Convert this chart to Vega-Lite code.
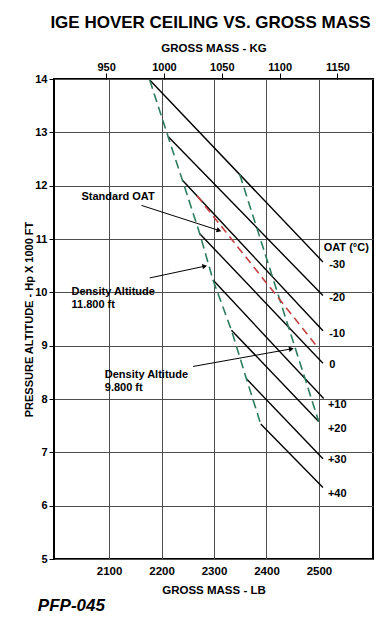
{
  "$schema": "https://vega.github.io/schema/vega-lite/v6.json",
  "width": 319,
  "height": 480,
  "autosize": {"type": "none"},
  "padding": {"left": 54, "top": 79, "right": 15, "bottom": 58},
  "background": "#ffffff",
  "title": {
    "text": "IGE HOVER CEILING VS. GROSS MASS",
    "font": "Liberation Sans",
    "fontSize": 17,
    "fontWeight": "bold",
    "color": "#000000",
    "anchor": "middle",
    "dx": -3,
    "offset": 10
  },
  "config": {
    "view": {"stroke": "#000000", "strokeWidth": 2},
    "font": "Liberation Sans",
    "axis": {
      "labelFont": "Liberation Sans",
      "labelFontWeight": "bold",
      "labelFontSize": 11,
      "labelColor": "#000000",
      "titleFont": "Liberation Sans",
      "titleFontWeight": "bold",
      "titleFontSize": 11.5,
      "titleColor": "#000000",
      "domain": false,
      "gridColor": "#4d4d4d",
      "gridOpacity": 1,
      "gridWidth": 1,
      "tickColor": "#000000",
      "tickWidth": 1
    }
  },
  "datasets": {
    "oat": [
      {"oat": "-30", "lb": 2177.5, "ft": 13.98},
      {"oat": "-30", "lb": 2507.6, "ft": 10.57},
      {"oat": "-20", "lb": 2212.4, "ft": 12.92},
      {"oat": "-20", "lb": 2507.6, "ft": 9.94},
      {"oat": "-10", "lb": 2239.8, "ft": 12.10},
      {"oat": "-10", "lb": 2507.6, "ft": 9.28},
      {"oat": "0", "lb": 2272.8, "ft": 11.10},
      {"oat": "0", "lb": 2507.6, "ft": 8.67},
      {"oat": "+10", "lb": 2298.1, "ft": 10.23},
      {"oat": "+10", "lb": 2509.0, "ft": 8.01},
      {"oat": "+20", "lb": 2333.2, "ft": 9.29},
      {"oat": "+20", "lb": 2499.5, "ft": 7.58},
      {"oat": "+30", "lb": 2361.7, "ft": 8.38},
      {"oat": "+30", "lb": 2507.6, "ft": 6.88},
      {"oat": "+40", "lb": 2389.0, "ft": 7.53},
      {"oat": "+40", "lb": 2507.6, "ft": 6.34}
    ],
    "da": [
      {"da": "11800", "lb": 2177.5, "ft": 13.98},
      {"da": "11800", "lb": 2212.4, "ft": 12.92},
      {"da": "11800", "lb": 2239.8, "ft": 12.10},
      {"da": "11800", "lb": 2272.8, "ft": 11.10},
      {"da": "11800", "lb": 2298.1, "ft": 10.23},
      {"da": "11800", "lb": 2333.2, "ft": 9.29},
      {"da": "11800", "lb": 2361.7, "ft": 8.38},
      {"da": "11800", "lb": 2389.0, "ft": 7.53},
      {"da": "9800", "lb": 2349.0, "ft": 12.21},
      {"da": "9800", "lb": 2499.5, "ft": 7.58}
    ],
    "std": [
      {"lb": 2267.6, "ft": 11.81},
      {"lb": 2500.0, "ft": 8.94}
    ],
    "arrows": [
      {"id": "std", "lb": 2161.7, "ft": 11.63, "lb2": 2309.5, "ft2": 11.16},
      {"id": "da11", "lb": 2177.5, "ft": 10.27, "lb2": 2282.3, "ft2": 10.49},
      {"id": "da9", "lb": 2260.0, "ft": 8.61, "lb2": 2447.4, "ft2": 8.94}
    ],
    "notes": [
      {"text": "Standard OAT", "lb": 2047.4, "ft": 11.784},
      {"text": "Density Altitude\n11.800 ft", "lb": 2028.4, "ft": 10.006},
      {"text": "Density Altitude\n9.800 ft", "lb": 2091.8, "ft": 8.447}
    ],
    "oatLabels": [
      {"text": "OAT (°C)", "lb": 2509.0, "ft": 10.83},
      {"text": "-30", "lb": 2519.5, "ft": 10.51},
      {"text": "-20", "lb": 2519.5, "ft": 9.893},
      {"text": "-10", "lb": 2519.5, "ft": 9.215},
      {"text": "0", "lb": 2519.5, "ft": 8.629},
      {"text": "+10", "lb": 2517.0, "ft": 7.893},
      {"text": "+20", "lb": 2517.0, "ft": 7.44},
      {"text": "+30", "lb": 2517.0, "ft": 6.864},
      {"text": "+40", "lb": 2517.0, "ft": 6.225}
    ],
    "code": [
      {"text": "PFP-045", "lb": 1964.2, "ft": 4.122}
    ]
  },
  "resolve": {"axis": {"x": "independent", "y": "independent"}},
  "layer": [
    {
      "data": {"name": "oat"},
      "mark": {"type": "line", "color": "#000000", "strokeWidth": 1.4},
      "encoding": {
        "x": {
          "field": "lb", "type": "quantitative",
          "scale": {"domain": [1995, 2603], "nice": false, "zero": false},
          "axis": {
            "orient": "bottom",
            "values": [2100, 2200, 2300, 2400, 2500],
            "format": "d",
            "grid": true,
            "ticks": false,
            "tickSize": 0,
            "labelPadding": 6,
            "labelFontSize": 11.5,
            "title": "GROSS MASS - LB",
            "titlePadding": 8
          }
        },
        "y": {
          "field": "ft", "type": "quantitative",
          "scale": {"domain": [5, 14], "nice": false, "zero": false},
          "axis": {
            "orient": "left",
            "values": [5, 6, 7, 8, 9, 10, 11, 12, 13, 14],
            "format": "d",
            "grid": true,
            "ticks": true,
            "tickSize": 5,
            "labelPadding": 2,
            "title": "PRESSURE ALTITUDE - Hp X 1000 FT",
            "titleFontSize": 11,
            "titlePadding": 0
          }
        },
        "detail": {"field": "oat"}
      }
    },
    {
      "data": {"name": "da"},
      "mark": {"type": "line", "color": "#2e7d5e", "strokeWidth": 1.6, "strokeDash": [9, 5]},
      "encoding": {
        "x": {
          "field": "lb", "type": "quantitative",
          "scale": {"domain": [1995, 2603], "nice": false, "zero": false},
          "axis": {
            "orient": "top",
            "values": [2094.39, 2204.62, 2314.85, 2425.08, 2535.31],
            "labelExpr": "format(datum.value / 2.20462, '.0f')",
            "grid": false,
            "ticks": true,
            "tickSize": 6,
            "labelPadding": 1,
            "title": "GROSS MASS - KG",
            "titlePadding": 8
          }
        },
        "y": {"field": "ft", "type": "quantitative", "scale": {"domain": [5, 14], "nice": false, "zero": false}, "axis": null},
        "detail": {"field": "da"}
      }
    },
    {
      "data": {"name": "std"},
      "mark": {"type": "line", "color": "#c4403f", "strokeWidth": 1.6, "strokeDash": [8, 5]},
      "encoding": {
        "x": {"field": "lb", "type": "quantitative", "axis": null},
        "y": {"field": "ft", "type": "quantitative", "axis": null}
      }
    },
    {
      "data": {"name": "arrows"},
      "mark": {"type": "rule", "color": "#000000", "strokeWidth": 1},
      "encoding": {
        "x": {"field": "lb", "type": "quantitative", "axis": null},
        "y": {"field": "ft", "type": "quantitative", "axis": null},
        "x2": {"field": "lb2"},
        "y2": {"field": "ft2"}
      }
    },
    {
      "data": {"name": "arrows"},
      "transform": [{"filter": "datum.id === 'std'"}],
      "mark": {"type": "point", "shape": "triangle-right", "filled": true, "color": "#000000", "opacity": 1, "size": 30, "angle": 18},
      "encoding": {
        "x": {"field": "lb2", "type": "quantitative", "axis": null},
        "y": {"field": "ft2", "type": "quantitative", "axis": null}
      }
    },
    {
      "data": {"name": "arrows"},
      "transform": [{"filter": "datum.id === 'da11'"}],
      "mark": {"type": "point", "shape": "triangle-right", "filled": true, "color": "#000000", "opacity": 1, "size": 30, "angle": -12},
      "encoding": {
        "x": {"field": "lb2", "type": "quantitative", "axis": null},
        "y": {"field": "ft2", "type": "quantitative", "axis": null}
      }
    },
    {
      "data": {"name": "arrows"},
      "transform": [{"filter": "datum.id === 'da9'"}],
      "mark": {"type": "point", "shape": "triangle-right", "filled": true, "color": "#000000", "opacity": 1, "size": 30, "angle": -10.6},
      "encoding": {
        "x": {"field": "lb2", "type": "quantitative", "axis": null},
        "y": {"field": "ft2", "type": "quantitative", "axis": null}
      }
    },
    {
      "data": {"name": "notes"},
      "mark": {"type": "text", "align": "left", "baseline": "middle", "font": "Liberation Sans", "fontSize": 11, "fontWeight": "bold", "color": "#000000", "lineBreak": "\n", "lineHeight": 13},
      "encoding": {
        "x": {"field": "lb", "type": "quantitative", "axis": null},
        "y": {"field": "ft", "type": "quantitative", "axis": null},
        "text": {"field": "text"}
      }
    },
    {
      "data": {"name": "oatLabels"},
      "mark": {"type": "text", "align": "left", "baseline": "middle", "font": "Liberation Sans", "fontSize": 11, "fontWeight": "bold", "color": "#000000"},
      "encoding": {
        "x": {"field": "lb", "type": "quantitative", "axis": null},
        "y": {"field": "ft", "type": "quantitative", "axis": null},
        "text": {"field": "text"}
      }
    },
    {
      "data": {"name": "code"},
      "mark": {"type": "text", "align": "left", "baseline": "middle", "font": "Liberation Sans", "fontSize": 17, "fontWeight": "bold", "fontStyle": "italic", "color": "#000000"},
      "encoding": {
        "x": {"field": "lb", "type": "quantitative", "axis": null},
        "y": {"field": "ft", "type": "quantitative", "axis": null},
        "text": {"field": "text"}
      }
    }
  ]
}
